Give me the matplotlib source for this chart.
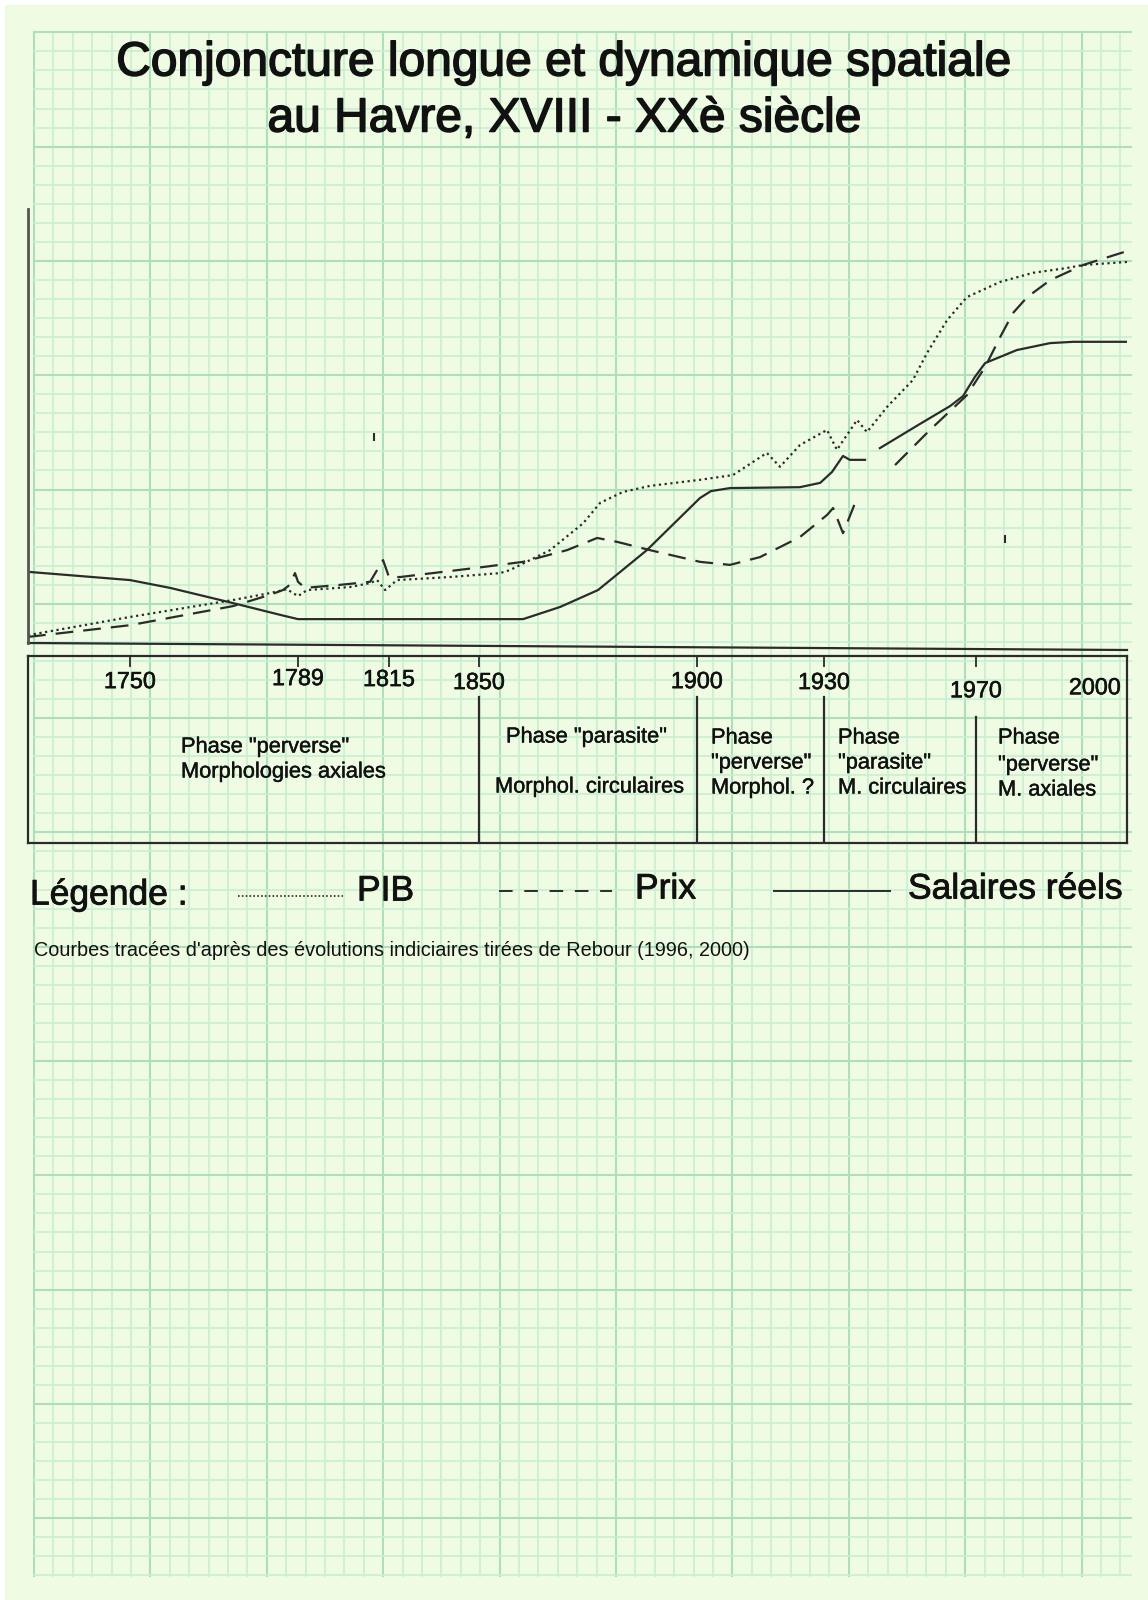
import numpy as np
import matplotlib
matplotlib.use("Agg")
import matplotlib.pyplot as plt
import matplotlib.patheffects as pe
from matplotlib.patches import Rectangle
from matplotlib.ticker import NullLocator

plt.rcParams['font.family'] = ['Liberation Sans', 'DejaVu Sans']

W, H = 1148, 1600
INK = '#2b2b2b'
TXT = '#111111'

# Curves (index values, 0 = time axis)
pib_years = [1726.0, 1750.0, 1773.9, 1782.5, 1786.4, 1789.0, 1791.6, 1803.9, 1809.6,
             1811.6, 1813.9, 1818.1, 1838.7, 1854.8, 1857.1, 1866.3, 1873.9, 1877.8,
             1883.0, 1889.2, 1900.7, 1908.5, 1916.5, 1919.6, 1924.3, 1930.8, 1933.4,
             1938.7, 1941.3, 1946.6, 1953.4, 1957.1, 1962.4, 1967.6, 1976.1, 1984.4,
             1992.9, 1997.0, 2008.0]
pib_vals = [1.8, 6.0, 9.9, 11.5, 12.4, 10.8, 12.2, 12.9, 13.8,
            14.5, 12.2, 14.5, 15.2, 16.1, 16.8, 21.4, 27.6, 32.3,
            34.8, 36.2, 37.6, 38.7, 43.8, 40.6, 45.6, 49.1, 44.5,
            51.4, 48.6, 54.4, 60.6, 66.8, 74.4, 79.7, 83.2, 85.3,
            86.4, 87.1, 87.8]

prix_years = [1726.0, 1750.0, 1773.9, 1782.5, 1785.5, 1787.1, 1788.3, 1789.0, 1791.0,
              1801.0, 1809.6, 1813.3, 1815.0, 1819.3, 1850.9, 1860.1, 1870.2, 1877.1,
              1881.7, 1889.2, 1900.7, 1907.8, 1914.9, 1924.3, 1930.8, 1932.4, 1935.0,
              1938.7, np.nan, 1948.7, 1957.9, 1967.6, 1972.3, 1976.1, 1979.3, 1982.9,
              1988.7, 1997.0, 2008.0]
prix_vals = [1.4, 4.1, 8.5, 11.1, 12.2, 13.4, 16.1, 14.1, 12.7,
             13.4, 14.1, 19.1, 15.2, 15.2, 17.5, 18.7, 21.4, 24.2,
             23.3, 21.4, 18.7, 18.0, 19.8, 24.4, 29.5, 31.1, 25.3,
             33.4, np.nan, 41.0, 49.1, 57.1, 63.6, 70.5, 76.0, 79.7,
             83.6, 87.1, 90.3]

salaires_years = [1726.0, 1750.0, 1759.3, 1773.9, 1784.8, 1789.0, 1860.1, 1868.6, 1877.3,
                  1888.5, 1900.7, 1903.3, 1907.8, 1924.3, 1929.1, 1932.1, 1935.0, 1936.8,
                  1940.8, np.nan, 1944.7, 1955.3, 1963.2, 1966.6, 1969.7, 1972.3, 1980.3,
                  1988.7, 1994.5, 2008.0]
salaires_vals = [16.4, 14.5, 12.7, 9.2, 6.5, 5.5, 5.5, 8.3, 12.2,
                 21.4, 33.4, 35.0, 35.7, 35.9, 36.9, 39.4, 43.1, 42.2,
                 42.2, np.nan, 44.9, 50.5, 54.6, 56.9, 61.3, 64.5, 67.5,
                 69.1, 69.4, 69.4]

# stray pen marks on the drawing
stray_years = [1810.7, 1977.3]
stray_lo = [46.5, 23.0]
stray_hi = [48.4, 24.9]

tick_years = [1750, 1789, 1815, 1850, 1900, 1930, 1970, 2000]
tick_labels = ['1750', '1789', '1815', '1850', '1900', '1930', '1970', '2000']
phase_bounds = [1850, 1900, 1930, 1970]

# hand-drawn (non uniform) time axis
axis_years = [1726, 1750, 1789, 1815, 1850, 1900, 1930, 1970, 2000, 2008]
axis_pos = [28, 130, 298, 389, 479, 697, 824, 976, 1095, 1127]


def fwd(x):
    return np.interp(x, axis_years, axis_pos)


def inv(x):
    return np.interp(x, axis_pos, axis_years)


def heavy(w):
    return [pe.withStroke(linewidth=w, foreground=TXT)]


fig = plt.figure(figsize=(W / 100, H / 100), dpi=100, facecolor='white')

# graph paper background
bg = fig.add_axes([0, 0, 1, 1], zorder=-1)
bg.set_xlim(0, W)
bg.set_ylim(H, 0)
bg.axis('off')
bg.add_patch(Rectangle((5, 5), W, H, color='#effce3', zorder=0))
gx = 34 + 19.4 * np.arange(57)
gy = 32.3 + 19.05 * np.arange(82)
for i, x in enumerate(gx):
    major = i % 6 == 0
    bg.plot([x, x], [32, 1576], color='#afdeba' if major else '#c8efd2',
            lw=1.5 if major else 1.2, zorder=1)
for i, y in enumerate(gy):
    major = i % 6 == 0
    bg.plot([34, 1131], [y, y], color='#afdeba' if major else '#c8efd2',
            lw=1.5 if major else 1.2, zorder=1)

# title
bg.text(564, 63, 'Conjoncture longue et dynamique spatiale', ha='center', va='center',
        fontsize=34.5, color=TXT, path_effects=heavy(1.1))
bg.text(564, 119, 'au Havre, XVIII - XXè siècle', ha='center', va='center',
        fontsize=34.5, color=TXT, path_effects=heavy(1.1))

# main chart
ax = fig.add_axes([28 / W, 1 - 643 / H, 1099 / W, 434 / H])
ax.set_xscale('function', functions=(fwd, inv))
ax.set_xlim(1726, 2008)
ax.set_ylim(0, 100)
ax.patch.set_visible(False)
for s in ['top', 'right', 'bottom']:
    ax.spines[s].set_visible(False)
ax.spines['left'].set_color('#555555')
ax.spines['left'].set_linewidth(2)
ax.set_xticks([])
ax.set_yticks([])
ax.xaxis.set_minor_locator(NullLocator())

ax.plot(pib_years, pib_vals, color=INK, lw=1.6, linestyle=(0, (1, 1.6)))
ax.plot(prix_years, prix_vals, color=INK, lw=1.6, linestyle=(0, (8, 4.5)))
ax.plot(salaires_years, salaires_vals, color=INK, lw=1.6)
ax.vlines(stray_years, stray_lo, stray_hi, color=INK, lw=1.5)
ax.plot([0, 1], [0, -7 / 434], transform=ax.transAxes, clip_on=False,
        color=INK, lw=1.6)

# phase box
bx = fig.add_axes([28 / W, 1 - 843 / H, 1099 / W, 187 / H])
bx.set_xscale('function', functions=(fwd, inv))
bx.set_xlim(1726, 2008)
bx.set_ylim(0, 1)
bx.patch.set_visible(False)
for s in bx.spines.values():
    s.set_color(INK)
    s.set_linewidth(1.6)
bx.set_yticks([])
bx.set_xticks(tick_years[:-1])
bx.xaxis.set_minor_locator(NullLocator())
bx.tick_params(axis='x', top=True, bottom=False, direction='in', length=8,
               width=1.3, color=INK, labeltop=False, labelbottom=False)

label_y = [0.863, 0.879, 0.874, 0.858, 0.863, 0.858, 0.814, 0.83]
tr = bx.get_xaxis_transform()
for yr, lab, ly in zip(tick_years, tick_labels, label_y):
    bx.text(yr, ly, lab, transform=tr, ha='center', va='center', fontsize=16.8,
            color=TXT, path_effects=heavy(0.4))

div_top = [0.78, 0.78, 0.78, 0.674]
for yr, top in zip(phase_bounds, div_top):
    bx.plot([yr, yr], [0, top], color=INK, lw=1.6)

phase_text = [
    (181, 747, 'Phase "perverse"'), (181, 772, 'Morphologies axiales'),
    (506, 737, 'Phase "parasite"'), (495, 787, 'Morphol. circulaires'),
    (711, 738, 'Phase'), (711, 763, '"perverse"'), (711, 788, 'Morphol. ?'),
    (838, 738, 'Phase'), (838, 763, '"parasite"'), (838, 788, 'M. circulaires'),
    (998, 738, 'Phase'), (998, 765, '"perverse"'), (998, 790, 'M. axiales'),
]
for x, y, t in phase_text:
    bg.text(x, y, t, ha='left', va='center', fontsize=15.7, color=TXT,
            path_effects=heavy(0.3))

# legend
bg.text(30, 895, 'Légende :', ha='left', va='center', fontsize=25.5, color=TXT,
        path_effects=heavy(0.6))
bg.plot([238, 343], [896, 896], color=INK, lw=1.2, linestyle=(0, (1, 1.3)))
bg.text(357, 891, 'PIB', ha='left', va='center', fontsize=25.5, color=TXT,
        path_effects=heavy(0.6))
bg.plot([499, 612], [891, 891], color=INK, lw=1.4, linestyle=(0, (7, 6)))
bg.text(635, 889, 'Prix', ha='left', va='center', fontsize=25.5, color=TXT,
        path_effects=heavy(0.6))
bg.plot([774, 890], [891, 891], color=INK, lw=1.4)
bg.text(908, 889, 'Salaires réels', ha='left', va='center', fontsize=25.5, color=TXT,
        path_effects=heavy(0.6))

bg.text(34, 951, "Courbes tracées d'après des évolutions indiciaires tirées de Rebour (1996, 2000)",
        ha='left', va='center', fontsize=14.3, color=TXT)

fig.savefig('out.png', dpi=100, facecolor='white')
